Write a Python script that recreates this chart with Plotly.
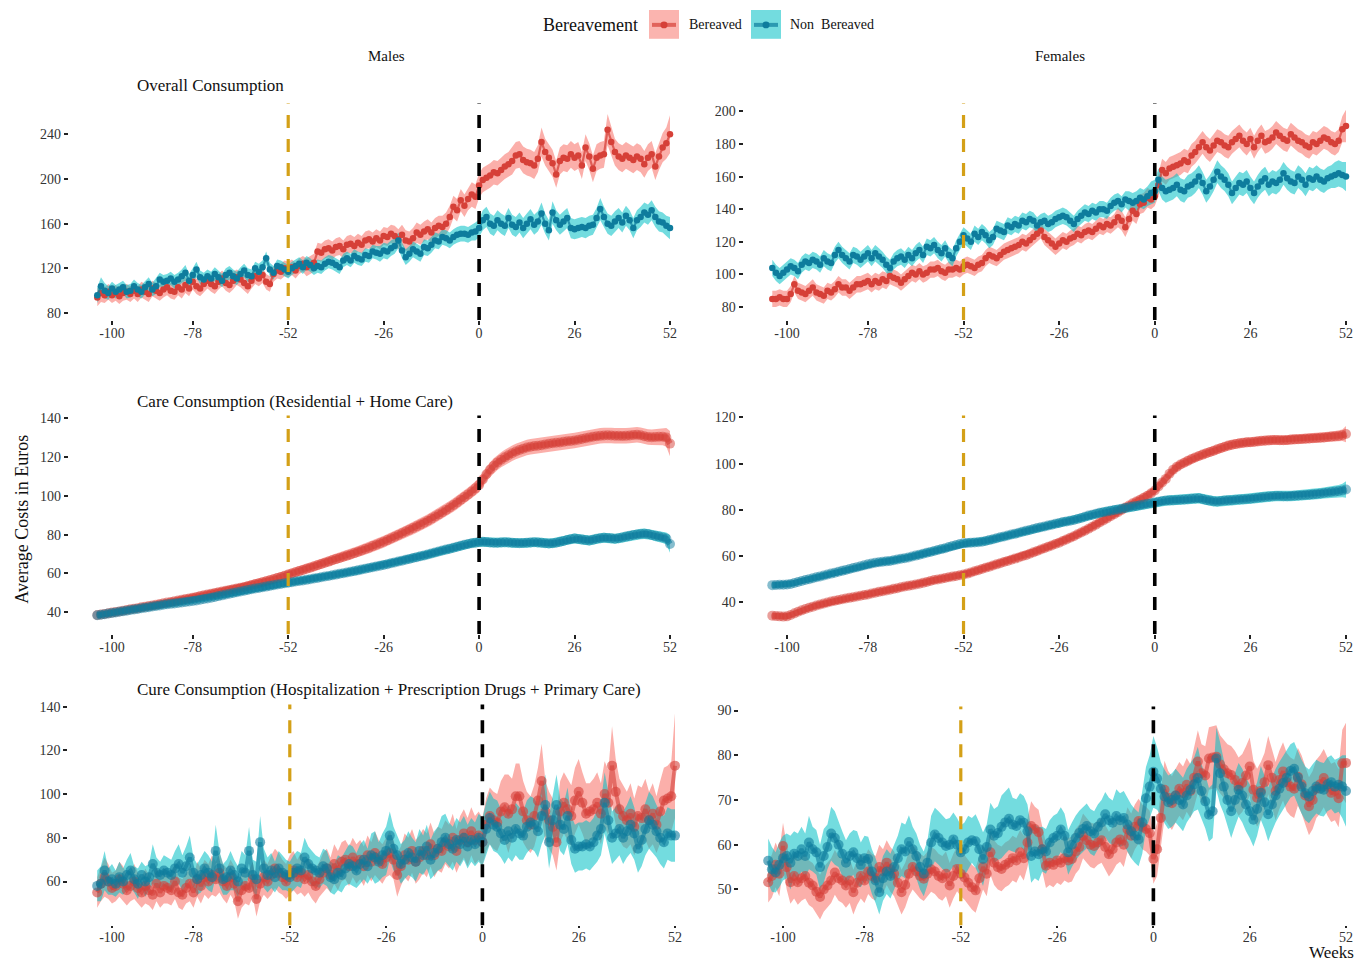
import plotly.graph_objects as go

W, H = 1369, 964
weeks = list(range(-104, 53))
x_ticks = [-100, -78, -52, -26, 0, 26, 52]

# ---------------- Overall consumption ----------------
male_overall_bereaved = [
    94, 98, 96, 99, 96, 98, 95, 98, 99, 97,
    100, 97, 101, 99, 97, 102, 100, 98, 101, 103,
    100, 99, 103, 101, 105, 102, 108, 104, 102, 106,
    109, 106, 104, 108, 111, 107, 105, 109, 112, 110,
    107, 104, 109, 113, 111, 114, 108, 106, 115, 118,
    117, 120, 119, 121, 118, 122, 124, 121, 123, 125,
    135, 134, 137, 138, 136, 139, 140, 137, 141, 142,
    140, 143, 141, 145, 146, 144, 147, 145, 149, 148,
    151, 149, 146, 150, 145, 144, 147, 152, 150, 153,
    155, 152, 156, 158, 157, 160, 166, 175, 172, 181,
    176, 182, 186, 184, 194,
    199, 201, 203, 206, 205, 208, 211, 213, 216, 221,
    222, 217, 215, 214, 212, 218, 233, 224, 219, 214,
    204, 216, 219, 218, 222, 219, 221, 212, 228, 220,
    209, 219, 221, 222, 244, 233, 224, 220, 218, 221,
    219, 217, 220, 218, 213, 219, 222, 211, 220, 228,
    232, 240]
male_overall_bereaved_hw = [
    8, 8, 7, 7, 7, 7, 7, 7, 7, 7,
    7, 7, 7, 7, 7, 7, 7, 7, 7, 7,
    7, 7, 7, 8, 7, 7, 7, 7, 7, 7,
    7, 7, 7, 7, 7, 7, 7, 8, 7, 7,
    7, 7, 7, 7, 7, 7, 7, 7, 7, 7,
    7, 7, 7, 7, 7, 7, 7, 8, 8, 8,
    8, 8, 8, 8, 8, 8, 8, 8, 8, 8,
    8, 8, 8, 8, 8, 8, 8, 8, 8, 8,
    8, 9, 9, 9, 9, 9, 9, 9, 9, 9,
    9, 9, 9, 9, 10, 10, 10, 10, 10, 10,
    10, 10, 11, 11, 11,
    11, 11, 11, 11, 11, 11, 11, 11, 12, 12,
    12, 12, 12, 12, 12, 12, 13, 12, 12, 12,
    12, 12, 12, 12, 12, 12, 12, 12, 12, 12,
    12, 12, 12, 12, 14, 13, 12, 12, 12, 12,
    12, 12, 12, 12, 12, 12, 12, 12, 12, 13,
    14, 17]
male_overall_nonbereaved = [
    96, 104, 100, 98, 102, 99, 101, 103, 99, 100,
    104, 101, 99, 103, 106, 101, 104, 110, 108, 109,
    111, 108, 110, 113, 116, 109, 114, 119, 112, 110,
    113, 111, 115, 112, 109, 114, 116, 113, 111, 115,
    118, 114, 113, 120, 117, 121, 129, 119, 116, 122,
    121, 119, 117, 120, 122, 124, 121, 125, 123, 120,
    122, 121, 124, 126, 125, 123, 121, 127, 129, 127,
    131, 129, 128, 132, 131, 135, 134, 133, 136, 135,
    138, 140, 145, 136, 130, 133, 137, 135, 133, 139,
    138, 141, 145, 144, 148, 147, 145, 148, 150, 151,
    151, 150, 152, 153, 156,
    163, 166, 160, 158, 163, 160, 158, 165, 159, 157,
    161, 156, 160, 164, 159, 162, 169, 160, 154, 170,
    163, 159, 162, 165, 156, 155, 156, 157, 156, 158,
    159, 165, 173, 166, 160, 158, 162, 165, 161, 167,
    163, 156, 163, 166, 170, 168, 172, 166, 162, 161,
    158, 156]
male_overall_nonbereaved_hw = [
    7, 8, 7, 6, 6, 6, 6, 6, 6, 6,
    6, 6, 6, 6, 6, 6, 7, 6, 6, 6,
    6, 6, 6, 6, 7, 6, 6, 7, 6, 6,
    6, 6, 6, 6, 6, 6, 6, 6, 6, 6,
    6, 6, 6, 6, 7, 6, 6, 6, 6, 6,
    6, 6, 6, 6, 6, 6, 6, 6, 6, 6,
    6, 6, 6, 6, 6, 6, 6, 6, 6, 6,
    6, 6, 6, 6, 6, 6, 6, 7, 7, 7,
    7, 7, 7, 7, 7, 7, 7, 7, 7, 7,
    7, 7, 7, 7, 7, 7, 7, 7, 7, 7,
    7, 7, 7, 8, 8,
    9, 9, 9, 9, 9, 9, 9, 9, 9, 9,
    9, 9, 9, 9, 9, 9, 10, 9, 9, 10,
    9, 9, 9, 9, 9, 9, 9, 9, 9, 9,
    9, 9, 10, 9, 9, 9, 9, 9, 9, 9,
    9, 9, 9, 9, 9, 9, 9, 9, 9, 9,
    9, 10]
female_overall_bereaved = [
    85, 85, 86, 85, 85, 88, 94, 90, 89, 88,
    90, 92, 89, 88, 87, 90, 89, 91, 94, 92,
    92, 90, 92, 94, 94, 95, 96, 94, 96, 95,
    97, 96, 99, 98, 97, 95, 97, 99, 101, 100,
    102, 100, 101, 103, 103, 104, 102, 101, 103, 103,
    104, 103, 105, 106, 105, 104, 106, 107, 110, 112,
    111, 110, 112, 114, 115, 116, 117, 118, 120, 119,
    121, 123, 125, 127, 123, 121, 119, 117, 119, 121,
    120, 122, 123, 125, 124, 126, 127, 126, 128, 130,
    129, 131, 130, 132, 135, 133, 129, 134, 139, 137,
    143, 144, 147, 146, 148,
    155, 164, 162, 165, 166, 167, 168, 170, 169, 173,
    175, 178, 181, 178, 176, 179, 182, 181, 179, 178,
    181, 183, 185, 182, 180, 183, 178, 182, 185, 181,
    182, 184, 187, 185, 183, 182, 186, 184, 182, 181,
    179, 178, 181, 180, 182, 184, 183, 181, 180, 182,
    189, 191]
female_overall_bereaved_hw = [
    5, 5, 5, 5, 5, 5, 5, 5, 5, 5,
    5, 5, 5, 5, 5, 5, 5, 5, 5, 5,
    5, 5, 5, 5, 5, 5, 5, 5, 5, 5,
    5, 5, 5, 5, 5, 5, 5, 5, 5, 5,
    5, 5, 5, 5, 5, 5, 5, 5, 5, 5,
    5, 5, 5, 5, 5, 5, 5, 5, 5, 5,
    5, 5, 5, 5, 5, 5, 5, 5, 5, 5,
    5, 5, 5, 5, 5, 5, 5, 5, 5, 5,
    5, 5, 5, 5, 5, 5, 5, 5, 5, 5,
    5, 5, 5, 5, 6, 6, 6, 6, 6, 6,
    6, 6, 6, 6, 6,
    7, 7, 7, 7, 7, 7, 7, 7, 7, 7,
    7, 7, 7, 7, 7, 7, 7, 7, 7, 7,
    7, 7, 7, 7, 7, 7, 7, 7, 7, 7,
    7, 7, 7, 7, 7, 7, 7, 7, 7, 7,
    7, 7, 7, 7, 7, 7, 7, 7, 7, 7,
    8, 10]
female_overall_nonbereaved = [
    104, 101, 99, 101, 103, 105, 104, 102, 106, 108,
    107, 109, 108, 106, 110, 108, 107, 112, 115, 112,
    110, 108, 112, 111, 109, 111, 113, 110, 113, 111,
    109, 106, 104, 108, 110, 111, 109, 112, 110, 113,
    115, 112, 117, 116, 118, 115, 113, 116, 112, 110,
    116, 120, 124, 122, 120, 125, 123, 126, 124, 121,
    123, 128, 127, 126, 130, 129, 131, 130, 133, 132,
    134, 133, 130, 132, 133, 131, 132, 134, 135, 136,
    135, 133, 131, 134, 136, 138, 137, 139, 138, 140,
    140, 139, 142, 144, 145, 143, 146, 145, 144, 145,
    147, 146, 148, 150, 151,
    158, 153, 151, 152, 153, 155, 152, 151, 154, 155,
    157, 160, 156, 151, 154, 158, 163, 160, 158, 155,
    150, 153, 156, 155, 157, 153, 150, 154, 157, 159,
    155, 157, 156, 158, 162, 159, 157, 156, 160, 158,
    155, 159, 158, 160, 158, 157, 159, 160, 161, 162,
    161, 160]
female_overall_nonbereaved_hw = [
    5, 5, 5, 5, 5, 5, 5, 5, 5, 5,
    5, 5, 5, 5, 5, 5, 5, 5, 5, 5,
    5, 5, 5, 5, 5, 5, 5, 5, 5, 5,
    5, 5, 5, 5, 5, 5, 5, 5, 5, 5,
    5, 5, 5, 5, 5, 5, 5, 5, 5, 5,
    5, 5, 5, 5, 5, 5, 5, 5, 5, 5,
    5, 5, 5, 5, 5, 5, 5, 5, 5, 5,
    5, 5, 5, 5, 5, 5, 5, 5, 5, 5,
    5, 5, 5, 5, 5, 5, 5, 5, 5, 5,
    5, 5, 5, 5, 5, 5, 5, 6, 6, 6,
    6, 6, 6, 7, 7,
    7, 7, 7, 7, 7, 7, 7, 7, 7, 7,
    7, 7, 7, 7, 7, 7, 7, 7, 7, 7,
    7, 7, 7, 7, 7, 7, 7, 7, 7, 7,
    7, 7, 7, 7, 7, 7, 7, 7, 7, 7,
    7, 7, 7, 7, 7, 7, 7, 7, 8, 8,
    8, 9]

# ---------------- Care consumption ----------------
male_care_bereaved = [
    38.5, 38.8, 39.1, 39.4, 39.8, 40.1, 40.4, 40.8, 41.1, 41.5,
    41.8, 42.1, 42.5, 42.8, 43.2, 43.5, 43.9, 44.2, 44.6, 45.0,
    45.3, 45.7, 46.0, 46.4, 46.8, 47.1, 47.5, 47.9, 48.3, 48.7,
    49.1, 49.5, 49.9, 50.3, 50.7, 51.1, 51.5, 51.9, 52.2, 52.6,
    53.0, 53.5, 54.0, 54.5, 55.0, 55.5, 56.0, 56.5, 57.0, 57.6,
    58.2, 58.8, 59.4, 60.0, 60.6, 61.2, 61.8, 62.4, 63.0, 63.6,
    64.2, 64.9, 65.5, 66.1, 66.8, 67.4, 68.0, 68.6, 69.2, 69.8,
    70.5, 71.2, 71.9, 72.6, 73.3, 74.1, 74.8, 75.6, 76.4, 77.2,
    78.0, 78.9, 79.8, 80.7, 81.6, 82.5, 83.4, 84.3, 85.2, 86.2,
    87.2, 88.3, 89.4, 90.5, 91.6, 92.8, 94.0, 95.3, 96.6, 98.0,
    99.4, 100.8, 102.3, 103.9, 105.6,
    108.5, 111.2, 113.6, 115.6, 117.3, 118.7, 119.9, 121.0, 122.0, 122.9,
    123.7, 124.4, 125.0, 125.4, 125.7, 125.9, 126.2, 126.6, 126.9, 127.2,
    127.4, 127.6, 127.9, 128.2, 128.4, 128.6, 129.0, 129.4, 129.8, 130.2,
    130.5, 130.8, 131.0, 131.2, 131.3, 131.2, 131.1, 131.0, 130.9, 131.0,
    131.2, 131.4, 131.6, 131.3, 130.8, 130.4, 130.3, 130.4, 130.5, 130.6,
    130.2, 127.0]
male_care_bereaved_hw = [
    1.5, 1.5, 1.5, 1.5, 1.5, 1.6, 1.6, 1.6, 1.6, 1.7,
    1.7, 1.7, 1.7, 1.8, 1.8, 1.8, 1.8, 1.9, 1.9, 1.9,
    1.9, 2.0, 2.0, 2.0, 2.0, 2.0, 2.1, 2.1, 2.1, 2.1,
    2.1, 2.2, 2.2, 2.2, 2.2, 2.2, 2.3, 2.3, 2.3, 2.3,
    2.3, 2.4, 2.4, 2.4, 2.4, 2.4, 2.5, 2.5, 2.5, 2.5,
    2.5, 2.5, 2.6, 2.6, 2.6, 2.6, 2.6, 2.7, 2.7, 2.7,
    2.7, 2.7, 2.8, 2.8, 2.8, 2.8, 2.8, 2.9, 2.9, 2.9,
    2.9, 3.0, 3.0, 3.0, 3.0, 3.0, 3.1, 3.1, 3.1, 3.1,
    3.1, 3.2, 3.2, 3.2, 3.2, 3.2, 3.3, 3.3, 3.3, 3.3,
    3.3, 3.4, 3.4, 3.4, 3.4, 3.4, 3.5, 3.5, 3.5, 3.5,
    3.5, 3.6, 3.6, 3.6, 3.7,
    3.7, 3.8, 3.8, 3.8, 3.9, 3.9, 3.9, 4.0, 4.0, 4.0,
    4.0, 4.0, 4.0, 4.0, 4.0, 4.0, 4.0, 4.0, 4.0, 4.0,
    4.0, 4.0, 4.0, 4.0, 4.0, 4.0, 4.0, 4.0, 4.0, 4.0,
    4.0, 4.0, 4.0, 4.0, 4.0, 4.0, 4.0, 4.0, 4.0, 4.0,
    4.0, 4.0, 4.0, 4.0, 4.0, 4.0, 4.0, 4.1, 4.2, 4.4,
    4.8, 6.5]
male_care_nonbereaved = [
    38.4, 38.7, 39.0, 39.3, 39.6, 39.9, 40.2, 40.5, 40.8, 41.1,
    41.4, 41.7, 42.0, 42.3, 42.6, 42.9, 43.2, 43.5, 43.8, 44.1,
    44.3, 44.5, 44.8, 45.0, 45.3, 45.5, 45.8, 46.1, 46.4, 46.8,
    47.1, 47.5, 47.9, 48.3, 48.7, 49.1, 49.5, 49.9, 50.3, 50.7,
    51.1, 51.5, 51.8, 52.2, 52.5, 52.9, 53.2, 53.6, 53.9, 54.3,
    54.6, 54.9, 55.2, 55.5, 55.8, 56.1, 56.4, 56.7, 57.0, 57.4,
    57.7, 58.0, 58.4, 58.7, 59.1, 59.4, 59.8, 60.1, 60.5, 60.9,
    61.2, 61.6, 62.0, 62.4, 62.8, 63.2, 63.6, 64.0, 64.4, 64.8,
    65.3, 65.7, 66.2, 66.6, 67.1, 67.5, 68.0, 68.4, 68.9, 69.3,
    69.8, 70.3, 70.8, 71.3, 71.8, 72.3, 72.8, 73.3, 73.8, 74.3,
    74.8, 75.2, 75.6, 75.9, 76.2,
    76.3, 76.2, 76.0, 75.9, 75.9, 76.0, 76.1, 76.0, 75.8, 75.7,
    75.6, 75.7, 75.8, 76.0, 76.1, 76.0, 75.8, 75.6, 75.5, 75.6,
    75.9, 76.3, 76.8, 77.3, 77.7, 78.0, 77.8, 77.5, 77.2, 77.0,
    77.4, 77.9, 78.2, 78.4, 78.3, 78.1, 77.9, 78.2, 78.6, 79.0,
    79.4, 79.8, 80.1, 80.4, 80.5, 80.3, 79.9, 79.4, 79.0, 78.6,
    78.0, 75.2]
male_care_nonbereaved_hw = [
    1.5, 1.5, 1.5, 1.5, 1.5, 1.5, 1.5, 1.5, 1.5, 1.5,
    1.6, 1.6, 1.6, 1.6, 1.6, 1.6, 1.6, 1.6, 1.6, 1.6,
    1.7, 1.7, 1.7, 1.7, 1.7, 1.7, 1.7, 1.7, 1.7, 1.7,
    1.8, 1.8, 1.8, 1.8, 1.8, 1.8, 1.8, 1.8, 1.8, 1.8,
    1.9, 1.9, 1.9, 1.9, 1.9, 1.9, 1.9, 1.9, 1.9, 1.9,
    2.0, 2.0, 2.0, 2.0, 2.0, 2.0, 2.0, 2.0, 2.0, 2.0,
    2.0, 2.0, 2.0, 2.0, 2.0, 2.0, 2.0, 2.0, 2.0, 2.0,
    2.1, 2.1, 2.1, 2.1, 2.1, 2.1, 2.1, 2.1, 2.1, 2.1,
    2.2, 2.2, 2.2, 2.2, 2.2, 2.2, 2.2, 2.2, 2.2, 2.2,
    2.3, 2.3, 2.3, 2.3, 2.3, 2.3, 2.3, 2.3, 2.3, 2.3,
    2.4, 2.4, 2.4, 2.4, 2.4,
    2.5, 2.5, 2.5, 2.5, 2.5, 2.5, 2.5, 2.5, 2.5, 2.5,
    2.5, 2.5, 2.5, 2.5, 2.5, 2.5, 2.5, 2.5, 2.5, 2.5,
    2.5, 2.5, 2.5, 2.5, 2.6, 2.6, 2.6, 2.6, 2.6, 2.6,
    2.6, 2.6, 2.6, 2.6, 2.6, 2.6, 2.6, 2.6, 2.6, 2.6,
    2.7, 2.7, 2.7, 2.7, 2.7, 2.7, 2.7, 2.8, 2.8, 2.9,
    3.1, 4.5]
female_care_bereaved = [
    34.2, 34.0, 33.9, 33.8, 33.9, 34.5, 35.2, 35.9, 36.5, 37.1,
    37.6, 38.1, 38.6, 39.0, 39.5, 39.9, 40.3, 40.7, 41.0, 41.3,
    41.6, 41.9, 42.2, 42.5, 42.8, 43.1, 43.4, 43.8, 44.1, 44.5,
    44.8, 45.1, 45.4, 45.8, 46.1, 46.5, 46.8, 47.1, 47.4, 47.7,
    48.0, 48.4, 48.8, 49.2, 49.6, 49.9, 50.2, 50.5, 50.8, 51.1,
    51.4, 51.7, 52.0, 52.4, 52.9, 53.4, 53.9, 54.4, 54.9, 55.4,
    55.9, 56.4, 56.9, 57.4, 57.9, 58.4, 58.9, 59.4, 59.9, 60.4,
    61.0, 61.6, 62.2, 62.8, 63.4, 64.0, 64.6, 65.2, 65.8, 66.5,
    67.2, 67.9, 68.6, 69.4, 70.2, 71.0, 71.8, 72.7, 73.6, 74.5,
    75.4, 76.3, 77.2, 78.1, 79.0, 80.0, 81.0, 81.9, 82.8, 83.6,
    84.4, 85.2, 86.1, 87.2, 88.4,
    90.1, 91.8, 93.4, 95.6, 97.4, 98.6, 99.6, 100.4, 101.2, 102.0,
    102.7, 103.3, 103.9, 104.5, 105.0, 105.6, 106.2, 106.8, 107.3, 107.8,
    108.2, 108.5, 108.8, 109.0, 109.2, 109.3, 109.5, 109.7, 109.9, 110.0,
    110.1, 110.2, 110.2, 110.1, 110.1, 110.2, 110.4, 110.5, 110.6, 110.7,
    110.8, 110.9, 111.0, 111.1, 111.2, 111.3, 111.5, 111.7, 111.9, 112.0,
    112.3, 112.8]
female_care_bereaved_hw = [
    1.3, 1.3, 1.3, 1.3, 1.3, 1.3, 1.3, 1.3, 1.3, 1.3,
    1.3, 1.3, 1.4, 1.4, 1.4, 1.4, 1.4, 1.4, 1.4, 1.4,
    1.4, 1.4, 1.4, 1.4, 1.5, 1.5, 1.5, 1.5, 1.5, 1.5,
    1.5, 1.5, 1.5, 1.5, 1.5, 1.5, 1.5, 1.5, 1.5, 1.5,
    1.6, 1.6, 1.6, 1.6, 1.6, 1.6, 1.6, 1.6, 1.6, 1.6,
    1.6, 1.6, 1.6, 1.6, 1.7, 1.7, 1.7, 1.7, 1.7, 1.7,
    1.7, 1.7, 1.7, 1.7, 1.7, 1.7, 1.7, 1.8, 1.8, 1.8,
    1.8, 1.8, 1.8, 1.8, 1.8, 1.8, 1.8, 1.8, 1.8, 1.8,
    1.9, 1.9, 1.9, 1.9, 1.9, 1.9, 1.9, 1.9, 1.9, 1.9,
    1.9, 1.9, 1.9, 1.9, 1.9, 1.9, 2.0, 2.0, 2.0, 2.0,
    2.0, 2.0, 2.0, 2.0, 2.0,
    2.1, 2.1, 2.1, 2.1, 2.1, 2.1, 2.1, 2.1, 2.1, 2.1,
    2.1, 2.1, 2.1, 2.1, 2.1, 2.1, 2.1, 2.1, 2.1, 2.1,
    2.1, 2.1, 2.1, 2.1, 2.1, 2.1, 2.1, 2.1, 2.1, 2.1,
    2.1, 2.1, 2.1, 2.1, 2.1, 2.1, 2.1, 2.1, 2.1, 2.1,
    2.1, 2.1, 2.1, 2.1, 2.1, 2.1, 2.2, 2.2, 2.2, 2.3,
    2.5, 3.5]
female_care_nonbereaved = [
    47.4, 47.5, 47.6, 47.6, 47.7, 47.9, 48.3, 48.8, 49.2, 49.6,
    50.0, 50.4, 50.8, 51.2, 51.6, 52.0, 52.4, 52.8, 53.2, 53.6,
    54.0, 54.4, 54.8, 55.2, 55.6, 56.0, 56.4, 56.8, 57.1, 57.3,
    57.5, 57.7, 57.9, 58.2, 58.5, 58.8, 59.1, 59.4, 59.8, 60.2,
    60.6, 61.0, 61.4, 61.8, 62.2, 62.6, 63.0, 63.4, 63.9, 64.4,
    64.8, 65.2, 65.5, 65.7, 65.8, 65.9, 66.0, 66.2, 66.5, 66.9,
    67.3, 67.7, 68.1, 68.5, 68.9, 69.3, 69.7, 70.1, 70.5, 70.9,
    71.3, 71.7, 72.1, 72.5, 72.8, 73.2, 73.6, 74.0, 74.3, 74.7,
    75.0, 75.3, 75.6, 76.0, 76.5, 77.0, 77.5, 77.9, 78.3, 78.7,
    79.0, 79.3, 79.6, 79.9, 80.2, 80.5, 80.8, 81.1, 81.4, 81.7,
    82.0, 82.3, 82.6, 82.9, 83.2,
    83.5, 83.8, 84.0, 84.1, 84.2, 84.3, 84.4, 84.5, 84.6, 84.8,
    84.9, 85.0, 84.7, 84.3, 84.0, 83.7, 83.6, 83.8, 84.0, 84.1,
    84.2, 84.4, 84.5, 84.6, 84.7, 84.8, 85.0, 85.2, 85.4, 85.6,
    85.8, 85.9, 86.0, 86.0, 85.9, 85.9, 86.0, 86.1, 86.2, 86.3,
    86.4, 86.5, 86.7, 86.9, 87.1, 87.3, 87.5, 87.7, 87.9, 88.1,
    88.4, 88.8]
female_care_nonbereaved_hw = [
    1.3, 1.3, 1.3, 1.3, 1.3, 1.3, 1.3, 1.3, 1.3, 1.3,
    1.4, 1.4, 1.4, 1.4, 1.4, 1.4, 1.4, 1.4, 1.4, 1.4,
    1.5, 1.5, 1.5, 1.5, 1.5, 1.5, 1.5, 1.5, 1.5, 1.5,
    1.6, 1.6, 1.6, 1.6, 1.6, 1.6, 1.6, 1.6, 1.6, 1.6,
    1.7, 1.7, 1.7, 1.7, 1.7, 1.7, 1.7, 1.7, 1.7, 1.7,
    1.8, 1.8, 1.8, 1.8, 1.8, 1.8, 1.8, 1.8, 1.8, 1.8,
    1.8, 1.8, 1.8, 1.8, 1.8, 1.8, 1.8, 1.8, 1.8, 1.8,
    1.9, 1.9, 1.9, 1.9, 1.9, 1.9, 1.9, 1.9, 1.9, 1.9,
    1.9, 1.9, 1.9, 1.9, 1.9, 1.9, 1.9, 1.9, 1.9, 1.9,
    2.0, 2.0, 2.0, 2.0, 2.0, 2.0, 2.0, 2.0, 2.0, 2.0,
    2.0, 2.0, 2.0, 2.0, 2.1,
    2.2, 2.2, 2.2, 2.2, 2.2, 2.2, 2.2, 2.2, 2.2, 2.2,
    2.3, 2.3, 2.3, 2.3, 2.3, 2.3, 2.3, 2.3, 2.3, 2.3,
    2.3, 2.3, 2.3, 2.3, 2.3, 2.3, 2.3, 2.3, 2.3, 2.3,
    2.3, 2.3, 2.3, 2.3, 2.3, 2.3, 2.3, 2.3, 2.3, 2.3,
    2.4, 2.4, 2.4, 2.4, 2.4, 2.4, 2.5, 2.5, 2.6, 2.7,
    2.9, 3.6]

# ---------------- Cure consumption ----------------
male_cure_bereaved = [
    55, 59, 62, 60, 57, 58, 61, 59, 56, 58,
    60, 57, 55, 58, 56, 54, 59, 55, 58, 57,
    56, 60, 55, 54, 57, 59, 55, 61, 58, 62,
    60, 63, 61, 64, 60, 58, 62, 59, 51, 56,
    58, 57, 61, 52, 59, 62, 60, 63, 66, 64,
    62, 60, 63, 65, 62, 64, 61, 63, 60, 58,
    61, 64, 66, 63, 68, 65, 69, 70, 67, 71,
    68, 70, 67, 72, 69, 73, 70, 68, 71, 73,
    70, 63, 67, 72, 70, 74, 69, 71, 74, 72,
    77, 72, 75, 74, 78, 76, 80, 74, 79, 82,
    78, 83, 79, 81, 78,
    86, 90, 88, 87, 92, 94, 91, 93, 99, 99,
    92, 88, 86, 90, 97, 106, 92, 88, 85, 78,
    92, 96, 93, 90, 97, 101, 96, 91, 92, 93,
    96, 91, 100, 96, 113, 101, 93, 90, 88, 91,
    85, 90, 89, 93, 88, 91, 86, 92, 97, 98,
    99, 113]
male_cure_bereaved_hw = [
    7, 8, 9, 8, 7, 7, 8, 8, 7, 7,
    8, 7, 7, 8, 7, 7, 8, 7, 8, 7,
    7, 8, 7, 7, 7, 8, 7, 8, 8, 8,
    8, 9, 8, 9, 8, 8, 8, 8, 8, 8,
    8, 8, 8, 8, 8, 8, 8, 9, 9, 9,
    8, 8, 9, 9, 8, 9, 8, 8, 8, 8,
    8, 9, 9, 8, 9, 9, 9, 9, 9, 9,
    9, 9, 9, 9, 9, 10, 9, 9, 9, 10,
    9, 10, 9, 10, 10, 10, 10, 10, 10, 10,
    10, 10, 10, 10, 10, 10, 11, 10, 11, 11,
    11, 11, 11, 11, 11,
    12, 13, 13, 13, 14, 15, 18, 14, 15, 15,
    14, 13, 13, 14, 15, 17, 14, 13, 13, 13,
    14, 14, 14, 14, 15, 15, 14, 14, 13, 14,
    14, 14, 15, 15, 18, 15, 14, 14, 13, 14,
    13, 14, 14, 14, 13, 14, 13, 14, 15, 15,
    16, 24]
male_cure_nonbereaved = [
    58, 59, 65, 60, 61, 59, 62, 60, 63, 65,
    61, 59, 63, 60, 62, 68, 64, 63, 65, 64,
    63, 66, 68, 64, 67, 71, 64, 61, 63, 66,
    64, 62, 74, 66, 61, 62, 65, 63, 60, 66,
    64, 74, 63, 61, 78, 66, 63, 65, 62, 66,
    64, 63, 62, 64, 66, 65, 71, 68, 66, 65,
    64, 67, 66, 62, 61, 64, 63, 66, 68, 67,
    65, 68, 70, 67, 72, 71, 69, 72, 74, 81,
    75, 72, 68, 70, 73, 71, 69, 74, 72, 76,
    70, 73, 75, 78, 80, 77, 75, 79, 77, 80,
    76, 79, 77, 80, 78,
    84, 89, 86, 85, 82, 79, 83, 80, 84, 82,
    81, 85, 87, 86, 83, 90, 95, 78, 88, 95,
    86, 84, 90, 79, 75, 76, 76, 77, 76, 78,
    81, 84, 96, 88, 80, 82, 84, 80, 83, 86,
    82, 75, 79, 84, 88, 86, 83, 80, 78, 82,
    81, 81]
male_cure_nonbereaved_hw = [
    7, 8, 9, 6, 7, 6, 7, 6, 7, 8,
    6, 7, 6, 7, 6, 9, 7, 6, 7, 7,
    7, 8, 9, 8, 9, 10, 7, 7, 8, 8,
    8, 7, 12, 8, 7, 8, 9, 7, 7, 8,
    8, 11, 7, 8, 12, 9, 8, 8, 7, 8,
    8, 7, 7, 8, 8, 8, 9, 8, 8, 7,
    7, 8, 8, 7, 7, 8, 8, 8, 9, 9,
    8, 9, 9, 8, 10, 12, 9, 10, 11, 11,
    10, 9, 9, 9, 10, 9, 9, 10, 9, 10,
    9, 10, 10, 12, 11, 10, 10, 10, 10, 10,
    10, 10, 10, 11, 11,
    12, 12, 12, 12, 11, 11, 12, 11, 12, 12,
    11, 12, 12, 12, 12, 13, 14, 12, 12, 14,
    12, 12, 13, 11, 11, 11, 11, 11, 11, 11,
    12, 12, 14, 13, 12, 12, 12, 12, 12, 13,
    12, 11, 12, 12, 13, 13, 12, 12, 12, 12,
    12, 12]
female_cure_bereaved = [
    51.6, 53.0, 55.5, 53.5, 59.7, 55.0, 51.6, 53.0, 51.6, 52.5,
    53.0, 51.5, 50.9, 49.5, 48.3, 50.0, 50.9, 52.0, 53.8, 52.5,
    52.0, 50.9, 52.0, 49.4, 51.5, 53.0, 52.0, 54.0, 53.0, 52.5,
    55.0, 54.0, 56.0, 54.5, 53.5, 51.5, 49.4, 51.0, 53.5, 55.0,
    54.0, 53.0, 52.4, 53.5, 54.5, 54.0, 53.0, 52.5, 53.5, 50.9,
    53.0, 54.6, 53.5, 52.7, 51.5, 50.5, 49.8, 52.5, 55.0, 53.5,
    58.3, 56.0, 55.0, 54.6, 55.5, 56.0, 57.0, 56.5, 58.3, 57.0,
    60.5, 64.2, 63.5, 62.8, 59.0, 55.3, 56.0, 55.5, 56.5, 56.0,
    57.0, 56.5, 56.8, 58.5, 59.5, 62.0, 61.0, 60.0, 59.7, 60.5,
    61.0, 59.5, 57.9, 59.0, 60.5, 61.2, 60.0, 63.4, 62.0, 64.0,
    65.3, 64.0, 63.5, 62.6, 56.8,
    59.0, 66.0, 72.3, 70.5, 69.3, 71.0, 72.5, 71.5, 73.4, 72.0,
    75.0, 78.6, 76.0, 75.5, 79.3, 79.5, 79.7, 78.0, 76.9, 76.0,
    75.6, 74.5, 73.0, 73.8, 75.5, 77.5, 72.3, 70.5, 72.0, 74.0,
    77.8, 75.0, 72.0, 74.5, 76.4, 74.0, 73.0, 72.5, 75.2, 73.5,
    71.0, 68.6, 70.0, 72.5, 73.5, 74.9, 73.0, 71.6, 72.0, 70.4,
    78.2, 78.3]
female_cure_bereaved_hw = [
    4.5, 4.8, 5.0, 5.0, 5.2, 5.0, 4.8, 5.0, 5.0, 5.0,
    5.0, 5.0, 5.0, 5.0, 5.0, 5.0, 5.0, 5.0, 5.0, 5.0,
    5.0, 5.0, 5.0, 5.0, 5.0, 5.0, 5.0, 5.0, 5.0, 5.0,
    5.0, 5.0, 5.0, 5.0, 5.0, 5.0, 5.0, 5.0, 5.0, 5.0,
    5.0, 5.0, 5.0, 5.0, 5.0, 5.0, 5.0, 5.0, 5.0, 5.0,
    5.0, 5.0, 5.0, 5.0, 5.0, 5.0, 5.0, 5.0, 5.0, 5.0,
    5.0, 5.0, 5.0, 5.0, 5.0, 5.0, 5.0, 5.0, 5.0, 5.0,
    5.5, 5.5, 5.0, 5.0, 5.0, 5.0, 5.0, 5.0, 5.0, 5.0,
    5.0, 5.0, 5.0, 5.0, 5.0, 5.0, 5.0, 5.0, 5.0, 5.0,
    5.0, 5.0, 5.0, 5.0, 5.0, 5.0, 5.0, 5.0, 5.0, 5.0,
    5.0, 5.0, 5.0, 5.0, 5.5,
    6.0, 6.0, 6.5, 6.0, 6.0, 6.0, 6.0, 6.0, 6.0, 6.0,
    6.5, 7.0, 6.5, 6.5, 7.0, 7.0, 7.0, 6.5, 6.5, 6.5,
    6.5, 6.5, 6.5, 6.5, 6.5, 6.5, 6.5, 6.5, 6.5, 6.5,
    6.5, 6.5, 6.5, 6.5, 6.5, 6.5, 6.5, 6.5, 6.5, 6.5,
    6.5, 6.5, 6.5, 6.5, 6.5, 6.5, 6.5, 6.5, 6.5, 6.5,
    7.5, 9.0]
female_cure_nonbereaved = [
    56.4, 54.5, 53.8, 55.5, 57.0, 57.5, 56.0, 58.0, 57.5, 59.0,
    57.5, 60.5, 59.0, 58.3, 55.0, 57.5, 59.5, 62.5, 61.5, 60.0,
    58.0, 56.0, 57.5, 58.3, 57.0, 55.5, 57.0, 56.8, 54.0, 52.0,
    49.4, 52.5, 54.0, 53.0, 55.0, 57.0, 59.0, 58.5, 60.6, 59.0,
    57.5, 55.0, 53.5, 56.0, 60.5, 62.3, 61.5, 60.5, 59.7, 60.0,
    61.2, 60.0, 58.3, 59.0, 60.5, 61.0, 60.8, 59.0, 56.8, 59.5,
    63.4, 62.0, 62.6, 64.0, 65.0, 65.8, 64.5, 64.2, 65.5, 64.9,
    63.0, 57.5, 58.5, 57.9, 59.0, 58.5, 60.5, 61.5, 62.0, 63.4,
    62.0, 58.3, 60.0, 61.5, 62.6, 63.5, 64.2, 63.0, 62.5, 64.0,
    65.0, 66.8, 65.5, 64.9, 66.4, 65.5, 66.0, 64.5, 63.0, 62.0,
    61.2, 65.0, 70.4, 73.0, 76.3,
    74.8, 72.5, 70.8, 69.5, 70.0, 71.0, 70.0, 69.0, 71.0, 72.3,
    73.5, 74.9, 72.0, 69.7, 66.7, 67.5, 79.3, 76.0, 73.0, 70.0,
    67.5, 70.0, 72.3, 71.0, 69.0, 67.5, 65.6, 68.0, 71.6, 69.5,
    66.8, 69.0, 71.0, 72.5, 73.8, 75.0, 76.5, 77.0, 75.0, 73.0,
    71.5, 70.8, 72.0, 73.0, 72.5, 72.3, 73.5, 74.0, 73.0, 73.4,
    73.0, 72.0]
female_cure_nonbereaved_hw = [
    5.0, 5.0, 4.5, 5.0, 5.0, 5.0, 6.0, 5.0, 5.0, 5.0,
    5.0, 6.0, 5.0, 5.0, 5.0, 6.0, 5.0, 6.0, 6.0, 5.0,
    5.0, 5.0, 5.0, 5.0, 6.0, 5.0, 5.0, 5.0, 5.0, 5.0,
    5.0, 5.0, 5.0, 5.0, 5.0, 5.0, 6.0, 6.0, 6.0, 5.0,
    5.0, 5.0, 5.0, 5.0, 6.0, 6.0, 6.0, 6.0, 6.0, 6.0,
    6.0, 6.0, 6.0, 6.0, 6.0, 5.0, 6.0, 6.0, 6.0, 5.0,
    6.0, 6.0, 6.0, 7.0, 7.0, 7.0, 6.0, 6.0, 6.0, 6.0,
    6.0, 6.0, 6.0, 6.0, 5.0, 5.0, 5.0, 5.0, 5.0, 5.0,
    5.0, 5.0, 5.0, 5.0, 5.0, 5.0, 5.0, 5.0, 5.0, 5.0,
    5.0, 5.0, 5.0, 5.0, 6.0, 6.0, 6.0, 6.0, 6.0, 6.0,
    6.0, 7.0, 7.0, 7.0, 8.0,
    7.0, 6.0, 6.0, 6.0, 6.0, 6.0, 6.0, 6.0, 6.0, 6.0,
    6.0, 7.0, 6.0, 6.0, 6.0, 6.0, 7.0, 7.0, 6.0, 6.0,
    6.0, 6.0, 6.0, 6.0, 6.0, 6.0, 6.0, 6.0, 6.0, 6.0,
    6.0, 6.0, 6.0, 6.0, 6.0, 6.0, 6.0, 6.0, 6.0, 6.0,
    6.0, 6.0, 6.0, 6.0, 6.0, 6.0, 6.0, 6.0, 6.0, 6.0,
    7.0, 8.0]

# ---------------- styling / layout helpers ----------------
RED = (214, 64, 56)
BLUE = (14, 124, 157)
RED_FILL = "rgba(248,118,109,0.58)"
BLUE_FILL = "rgba(0,191,196,0.55)"
FONT = "Liberation Serif, Times New Roman, serif"


def rgba(c, a):
    return "rgba(%d,%d,%d,%.2f)" % (c[0], c[1], c[2], a)


panels = [
    dict(xp=(112, 670), yv=((240, 130), (80, 310)), tb=(99, 317), yt=[80, 120, 160, 200, 240],
         b=male_overall_bereaved, bh=male_overall_bereaved_hw,
         n=male_overall_nonbereaved, nh=male_overall_nonbereaved_hw, style="thin", so=-4, tl=4),
    dict(xp=(787, 1346), yv=((200, 107), (80, 304)), tb=(99, 317), yt=[80, 100, 120, 140, 160, 180, 200],
         b=female_overall_bereaved, bh=female_overall_bereaved_hw,
         n=female_overall_nonbereaved, nh=female_overall_nonbereaved_hw, style="thin", so=-4, tl=4),
    dict(xp=(112, 670), yv=((140, 416), (40, 611)), tb=(413, 633), yt=[40, 60, 80, 100, 120, 140],
         b=male_care_bereaved, bh=male_care_bereaved_hw,
         n=male_care_nonbereaved, nh=male_care_nonbereaved_hw, style="thick", so=-4, tl=4),
    dict(xp=(787, 1346), yv=((120, 415), (40, 601)), tb=(413, 633), yt=[40, 60, 80, 100, 120],
         b=female_care_bereaved, bh=female_care_bereaved_hw,
         n=female_care_nonbereaved, nh=female_care_nonbereaved_hw, style="thick", so=-4, tl=4),
    dict(xp=(112, 675), yv=((140, 706), (60, 882)), tb=(704, 926), yt=[60, 80, 100, 120, 140],
         b=male_cure_bereaved, bh=male_cure_bereaved_hw,
         n=male_cure_nonbereaved, nh=male_cure_nonbereaved_hw, style="mid", so=-3, tl=2),
    dict(xp=(783, 1346), yv=((90, 710), (50, 890)), tb=(706, 926), yt=[50, 60, 70, 80, 90],
         b=female_cure_bereaved, bh=female_cure_bereaved_hw,
         n=female_cure_nonbereaved, nh=female_cure_nonbereaved_hw, style="mid", so=-3, tl=2),
]

styles = {
    "thin": dict(lw=2.2, la=0.75, ms=6.5, ma=1.0),
    "thick": dict(lw=6, la=0.6, ms=10, ma=0.5),
    "mid": dict(lw=4, la=0.6, ms=10, ma=0.6),
}

fig = go.Figure()
layout = dict(
    width=W, height=H, autosize=False,
    margin=dict(l=0, r=0, t=0, b=0),
    paper_bgcolor="white", plot_bgcolor="white",
    showlegend=False,
    font=dict(family=FONT, color="#222"),
    shapes=[], annotations=[],
)

for i, p in enumerate(panels):
    k = i + 1
    xa = "x" if k == 1 else "x%d" % k
    ya = "y" if k == 1 else "y%d" % k
    x0p, x52p = p["xp"]
    ppw = (x52p - x0p) / 152.0
    left = x0p - 11.8 * ppw
    right = min(x52p + 7.8 * ppw, W)
    xr = [-100 + (left - x0p) / ppw, 52 + (right - x52p) / ppw]
    (v1, p1), (v2, p2) = p["yv"]
    a = (p2 - p1) / (v2 - v1)
    top, bot = p["tb"]
    yr = [v1 + (bot - p1) / a, v1 + (top - p1) / a]

    axis_common = dict(showgrid=False, zeroline=False, showline=False, ticks="outside",
                       tickwidth=2, tickcolor="#222",
                       tickfont=dict(family=FONT, size=14, color="#333"))
    layout["xaxis" if k == 1 else "xaxis%d" % k] = dict(
        domain=[left / W, right / W], range=xr, anchor=ya, ticklabelstandoff=p["so"],
        ticklen=p["tl"],
        tickmode="array", tickvals=x_ticks, ticktext=[str(t) for t in x_ticks], **axis_common)
    layout["yaxis" if k == 1 else "yaxis%d" % k] = dict(
        domain=[1 - bot / H, 1 - top / H], range=yr, anchor=xa, ticklen=4,
        tickmode="array", tickvals=p["yt"], ticktext=[str(t) for t in p["yt"]], **axis_common)

    st = styles[p["style"]]
    for vals, hw, fill in ((p["b"], p["bh"], RED_FILL), (p["n"], p["nh"], BLUE_FILL)):
        lo = [v - h for v, h in zip(vals, hw)]
        hi = [v + h for v, h in zip(vals, hw)]
        fig.add_trace(go.Scatter(x=weeks, y=lo, mode="lines", line=dict(width=0),
                                 xaxis=xa, yaxis=ya, hoverinfo="skip"))
        fig.add_trace(go.Scatter(x=weeks, y=hi, mode="lines", line=dict(width=0),
                                 fill="tonexty", fillcolor=fill,
                                 xaxis=xa, yaxis=ya, hoverinfo="skip"))
    for vals, col in ((p["b"], RED), (p["n"], BLUE)):
        fig.add_trace(go.Scatter(x=weeks, y=vals, mode="lines+markers",
                                 line=dict(color=rgba(col, st["la"]), width=st["lw"]),
                                 marker=dict(color=rgba(col, st["ma"]), size=st["ms"], line=dict(width=0)),
                                 xaxis=xa, yaxis=ya))

    for xv, c, wdt in ((-52, "#D4A017", 3.2), (0, "#000000", 3.6)):
        layout["shapes"].append(dict(type="line", xref=xa, yref=ya + " domain",
                                     x0=xv, x1=xv, y0=0, y1=1, layer="above",
                                     line=dict(color=c, width=wdt, dash="13px,11px")))


def px(x):
    return x / W


def py(y):
    return 1 - y / H


def text(t, x, y, size, xanchor="left", angle=0, yanchor="middle"):
    layout["annotations"].append(dict(text=t, x=px(x), y=py(y), xref="paper", yref="paper",
                                      xanchor=xanchor, yanchor=yanchor, showarrow=False,
                                      textangle=angle, borderpad=0,
                                      font=dict(family=FONT, size=size, color="#111")))


text("Males", 386, 51, 15, "center")
text("Females", 1060, 51, 15, "center")
text("Overall Consumption", 136, 81, 17)
text("Care Consumption (Residential + Home Care)", 136, 399, 17)
text("Cure Consumption (Hospitalization + Prescription Drugs + Primary Care)", 136, 689, 17)
text("Average Costs in Euros", 22, 518, 18, "center", angle=-90)
text("Weeks", 1355, 964, 17, "right", yanchor="bottom")

# legend (drawn manually)
text("Bereavement", 590, 20, 18, "center")
for (bx0, bx1), fill, col, lab, lx in (((649, 679), "rgba(248,118,109,0.55)", RED, "Bereaved", 688),
                                         ((751, 781), "rgba(0,191,196,0.55)", BLUE, "Non  Bereaved", 789)):
    layout["shapes"].append(dict(type="rect", xref="paper", yref="paper",
                                 x0=px(bx0), x1=px(bx1), y0=py(34), y1=py(5),
                                 fillcolor=fill, line=dict(width=0)))
    layout["shapes"].append(dict(type="line", xref="paper", yref="paper",
                                 x0=px(bx0 + 3), x1=px(bx1 - 3), y0=py(20), y1=py(20),
                                 line=dict(color=rgba(col, 0.7), width=4)))
    cx = (bx0 + bx1) / 2.0
    layout["shapes"].append(dict(type="circle", xref="paper", yref="paper",
                                 x0=px(cx - 3.5), x1=px(cx + 3.5), y0=py(23.5), y1=py(16.5),
                                 fillcolor=rgba(col, 1), line=dict(width=0)))
    text(lab, lx, 20, 14)

fig.update_layout(**layout)

# pin the figure to the top-left corner of the page (no default body margin)
pin_js = ("document.body.style.margin='0';"
          "var d=document.getElementById('{plot_id}');"
          "d.style.position='fixed';d.style.left='0px';d.style.top='0px';")
fig.write_html("out.html", post_script=pin_js, config={"displayModeBar": False})
